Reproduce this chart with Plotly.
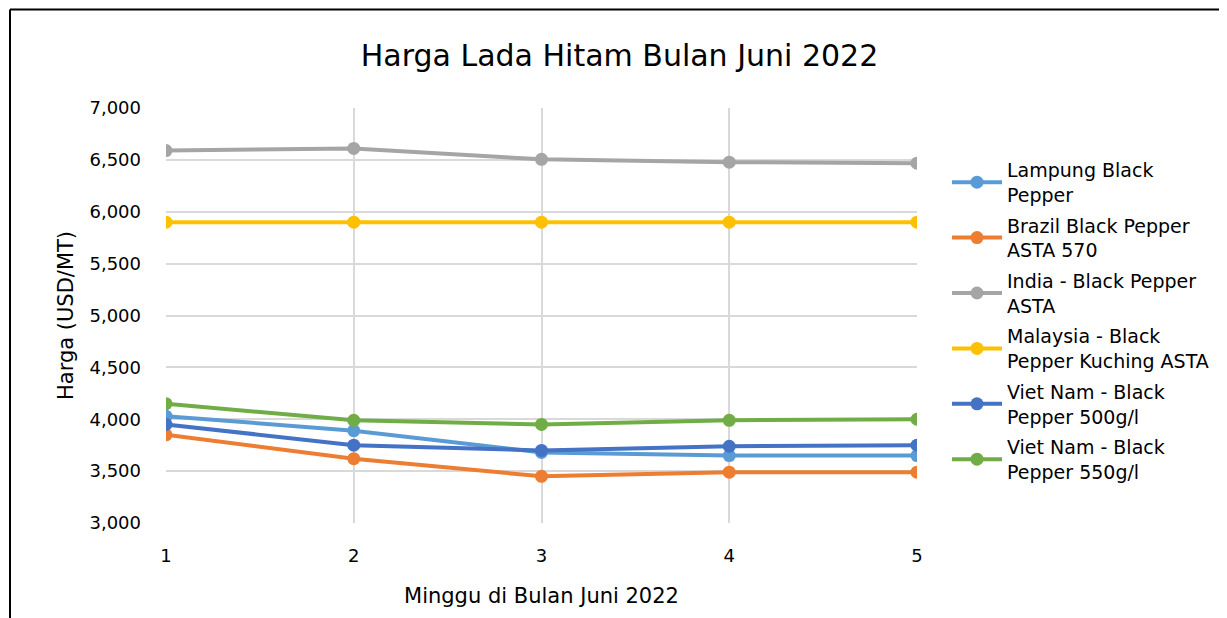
import plotly.graph_objects as go

weeks = [1, 2, 3, 4, 5]
series_names = [
    "Lampung Black<br>Pepper",
    "Brazil Black Pepper<br>ASTA 570",
    "India - Black Pepper<br>ASTA",
    "Malaysia - Black<br>Pepper Kuching ASTA",
    "Viet Nam - Black<br>Pepper 500g/l",
    "Viet Nam - Black<br>Pepper 550g/l",
]
lampung = [4030, 3890, 3680, 3650, 3650]
brazil = [3850, 3620, 3450, 3490, 3490]
india = [6590, 6610, 6505, 6478, 6468]
malaysia = [5900, 5900, 5900, 5900, 5900]
vietnam500 = [3950, 3750, 3700, 3740, 3750]
vietnam550 = [4150, 3990, 3950, 3990, 4000]
colors = ["#5B9BD5", "#ED7D31", "#A5A5A5", "#FFC000", "#4472C4", "#70AD47"]

all_values = [lampung, brazil, india, malaysia, vietnam500, vietnam550]

FONT = "DejaVu Sans"
OFF = 8  # page body margin

fig = go.Figure()
for i, (name, vals, col) in enumerate(zip(series_names, all_values, colors)):
    fig.add_trace(go.Scatter(
        x=weeks, y=vals, name=name, mode="lines+markers",
        legendgroup=f"g{i}",
        line=dict(color=col, width=4),
        marker=dict(color=col, size=13),
    ))

W, H = 1227, 618
L, R, T, B = 166 - OFF, 917 - OFF, 108 - OFF, 523 - OFF
pw, ph = R - L, B - T
def px(x):
    return (x - OFF - L) / pw
def py(y):
    return (B - (y - OFF)) / ph

fig.update_layout(
    width=W, height=H,
    margin=dict(l=L, r=W - R, t=T, b=H - B, autoexpand=False),
    paper_bgcolor="white", plot_bgcolor="white",
    font=dict(family=FONT, color="#000000", size=18),
    title=dict(text="Harga Lada Hitam Bulan Juni 2022", x=(619.5 - OFF) / W, xanchor="center",
               xref="container", y=1 - (55 - OFF) / H, yanchor="middle", yref="container",
               font=dict(size=30, family=FONT, color="#000000")),
    xaxis=dict(range=[1, 5], dtick=1, tick0=1, showgrid=True, gridcolor="#D9D9D9",
               gridwidth=1.5, zeroline=False, showline=False,
               ticks="", tickfont=dict(size=18), ticklabelstandoff=20,
               title=dict(text="Minggu di Bulan Juni 2022", font=dict(size=21), standoff=23)),
    yaxis=dict(range=[3000, 7000], dtick=500, tickformat=",", showgrid=True,
               gridcolor="#D9D9D9", gridwidth=1.5, zeroline=False, showline=False,
               ticks="", tickfont=dict(size=18), ticklabelstandoff=24,
               title=dict(text="Harga (USD/MT)", font=dict(size=21), standoff=10)),
    legend=dict(x=px(947), y=py(151), xanchor="left", yanchor="top",
                font=dict(size=19, family=FONT), tracegroupgap=3,
                bgcolor="rgba(0,0,0,0)", itemwidth=50),
    showlegend=True,
)

fig.add_shape(type="line", xref="paper", yref="paper",
              x0=px(10), x1=px(10), y0=py(660), y1=py(9.5),
              line=dict(color="black", width=2))
fig.add_shape(type="line", xref="paper", yref="paper",
              x0=px(10), x1=px(1260), y0=py(9.5), y1=py(9.5),
              line=dict(color="black", width=2))

fig.write_html("out.html")
